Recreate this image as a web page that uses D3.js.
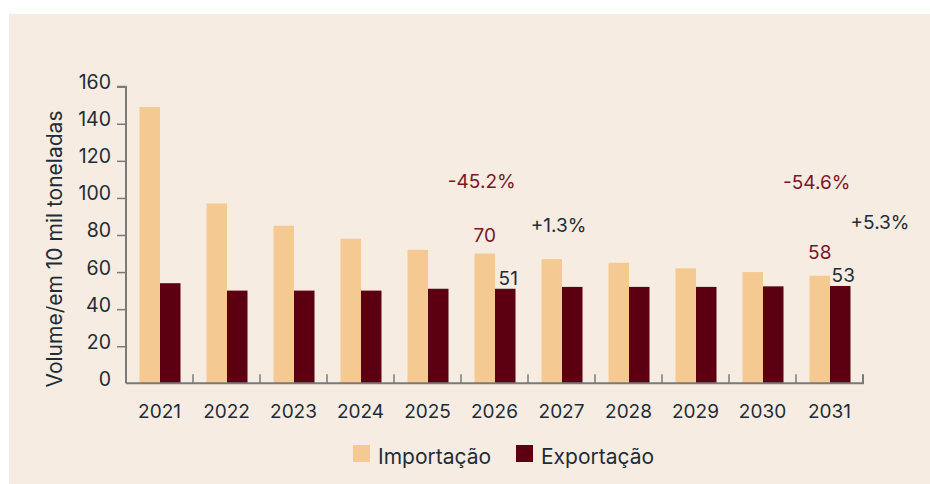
<!DOCTYPE html>
<html>
<head>
<meta charset="utf-8">
<script src="https://cdn.jsdelivr.net/npm/d3@7"></script>
<style>
  html, body { margin: 0; padding: 0; background: #ffffff; }
  svg { display: block; }
  text { font-family: "Inter", "Open Sans", sans-serif; }
</style>
</head>
<body>
<svg id="chart" width="930" height="484"></svg>
<script>
const years = ["2021","2022","2023","2024","2025","2026","2027","2028","2029","2030","2031"];
const importacao = [149, 97, 85, 78, 72, 70, 67, 65, 62, 60, 58];
const exportacao = [54, 50, 50, 50, 51, 51, 52, 52, 52, 52.3, 52.5];
const seriesNames = ["Importação", "Exportação"];
const yTicks = [0, 20, 40, 60, 80, 100, 120, 140, 160];
const valueLabels = [
  { year: "2026", series: "Importação", text: "70" },
  { year: "2026", series: "Exportação", text: "51" },
  { year: "2031", series: "Importação", text: "58" },
  { year: "2031", series: "Exportação", text: "53" }
];
const changeLabels = [
  { year: "2026", kind: "imp", text: "-45.2%" },
  { year: "2027", kind: "exp", text: "+1.3%" },
  { year: "2031", kind: "imp", text: "-54.6%" },
  { year: "2031", kind: "exp", text: "+5.3%" }
];

(function () {
const colors = { "Importação": "#f5c992", "Exportação": "#5c0011" };
const textDark = "#1f2c38";
const textRed = "#7a1626";
const axisColor = "#7a7a7a";

const svg = d3.select("#chart");
svg.append("rect").attr("x", 9).attr("y", 14).attr("width", 921).attr("height", 470).attr("fill", "#f6ece1");

const mLeft = 126, mRight = 863, mTop = 86.7, mBottom = 383.3;
const x0 = d3.scaleBand().domain(years).range([mLeft, mRight]).padding(0);
const x1 = d3.scaleBand().domain(seriesNames).range([13.5, x0.bandwidth() - 12.5]).padding(0);
const y = d3.scaleLinear().domain([0, 160]).range([mBottom, mTop]);

const data = years.map((yr, i) => ({ year: yr, "Importação": importacao[i], "Exportação": exportacao[i] }));

// bars
const g = svg.append("g");
g.selectAll("g.yr").data(data).join("g")
  .attr("transform", d => `translate(${x0(d.year)},0)`)
  .selectAll("rect").data(d => seriesNames.map(s => ({ s, v: d[s] }))).join("rect")
  .attr("x", d => x1(d.s))
  .attr("width", x1.bandwidth())
  .attr("y", d => y(d.v))
  .attr("height", d => y(0) - y(d.v))
  .attr("fill", d => colors[d.s]);

// y axis
const yAxis = svg.append("g").attr("transform", `translate(${mLeft},0)`)
  .call(d3.axisLeft(y).tickValues(yTicks).tickSize(9).tickPadding(6));
yAxis.select(".domain").attr("stroke", axisColor).attr("stroke-width", 2).attr("d", `M-9,${mTop}H0V${mBottom}`);
yAxis.selectAll(".tick line").attr("stroke", axisColor).attr("stroke-width", 1.5);
yAxis.selectAll(".tick text").attr("fill", textDark).attr("font-size", 19.5).attr("dy", "0.1em");
yAxis.selectAll(".tick").filter(d => d === 0).select("line").remove();

// x axis
const xAxis = svg.append("g").attr("transform", `translate(0,${mBottom})`)
  .call(d3.axisBottom(x0).tickSize(0).tickPadding(21));
xAxis.select(".domain").attr("stroke", axisColor).attr("stroke-width", 2).attr("d", `M${mLeft},0H${mRight}V-9`);
xAxis.selectAll(".tick text").attr("fill", textDark).attr("font-size", 19);
// boundary ticks (inside)
svg.append("g").selectAll("line").data(years.slice(1)).join("line")
  .attr("x1", d => x0(d)).attr("x2", d => x0(d))
  .attr("y1", mBottom).attr("y2", mBottom - 9)
  .attr("stroke", axisColor).attr("stroke-width", 1.5);

// y label
svg.append("text")
  .attr("transform", `translate(62,249) rotate(-90)`)
  .attr("text-anchor", "middle").attr("fill", textDark).attr("font-size", 21)
  .text("Volume/em 10 mil toneladas");

// value labels (layout offsets kept in code)
const valuePos = [[0, -11.5], [3, -3.7], [0, -17], [3, -4.3]];
const vals = { "Importação": importacao, "Exportação": exportacao };
svg.append("g").selectAll("text").data(valueLabels).join("text")
  .attr("x", (d, i) => x0(d.year) + x1(d.series) + x1.bandwidth() / 2 + valuePos[i][0])
  .attr("y", (d, i) => y(vals[d.series][years.indexOf(d.year)]) + valuePos[i][1])
  .attr("text-anchor", "middle")
  .attr("fill", d => d.series === "Importação" ? textRed : textDark)
  .attr("font-size", 19)
  .text(d => d.text);

// change labels
const changePos = [[-3, 188], [30.5, 231.5], [-3, 189], [84, 229]];
svg.append("g").selectAll("text").data(changeLabels).join("text")
  .attr("x", (d, i) => d.kind === "imp" ? x0(d.year) + x1("Importação") + x1.bandwidth() / 2 + changePos[i][0] : x0(d.year) + changePos[i][0])
  .attr("y", (d, i) => changePos[i][1])
  .attr("text-anchor", "middle")
  .attr("fill", d => d.kind === "imp" ? textRed : textDark)
  .attr("font-size", 19)
  .text(d => d.text);

// legend
const legend = svg.append("g");
const legendX = [353, 516];
seriesNames.forEach((s, i) => {
  legend.append("rect").attr("x", legendX[i]).attr("y", 445).attr("width", 17).attr("height", 17).attr("fill", colors[s]);
  legend.append("text").attr("x", legendX[i] + 25).attr("y", 464).attr("fill", textDark).attr("font-size", 21).text(s);
});
})();
</script>
</body>
</html>
